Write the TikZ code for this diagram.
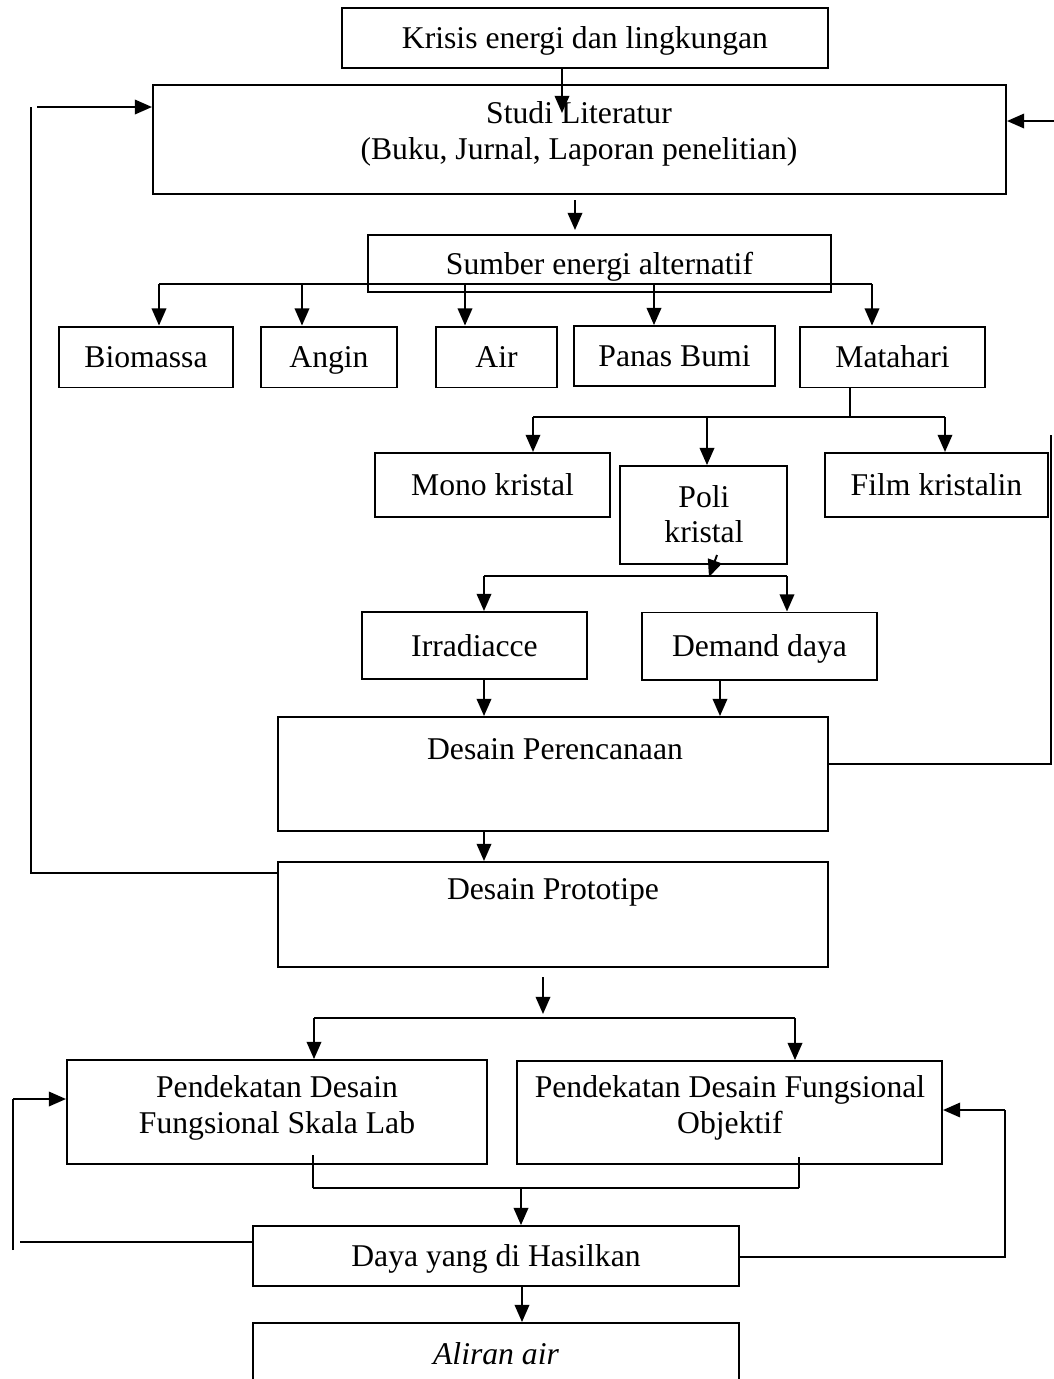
\documentclass[tikz,border=0pt]{standalone}
\usepackage{fontspec}
\setmainfont{Liberation Serif}
\usetikzlibrary{arrows.meta,positioning}
\tikzset{
  box/.style={draw, line width=0.75pt, inner sep=0pt, align=center, text height=9.5pt, text depth=1.5pt},
  txt/.style={inner sep=0pt, align=center},
  arr/.style={line width=0.75pt, -{Triangle[length=6.5pt,width=5.5pt]}},
  ln/.style={line width=0.75pt},
  fb/.style={line width=0.6pt}
}
\begin{document}
\begin{tikzpicture}[x=0.379pt, y=-0.379pt, font=\fontsize{12}{13.5}\selectfont]
\useasboundingbox (0,0) rectangle (1054,1379);
\clip (0,0) rectangle (1054,1379);
% boxes
\node (kr) [box, minimum width=184.2pt, minimum height=22.7pt] at (585,38) {Krisis energi dan lingkungan};
\node (st) [box, minimum width=323.3pt, minimum height=41.3pt] at (579.5,139.5) {};
\node (stt) [txt] at (579,134) {Studi Literatur\\(Buku, Jurnal, Laporan penelitian)};
\node (su) [box, minimum width=175.5pt, minimum height=21.6pt] at (599.5,263.5) {Sumber energi alternatif};
\node (bio) [box, minimum width=65.9pt, minimum height=23.1pt] at (146,357) {Biomassa};
\node (ang) [box, minimum width=51.5pt, minimum height=23.1pt] at (329,357) {Angin};
\node (air) [box, minimum width=45.9pt, minimum height=23.1pt] at (496.5,357) {Air};
\node (pb) [box, minimum width=76.2pt, minimum height=22.7pt] at (674.5,356) {Panas Bumi};
\node (mat) [box, minimum width=70.1pt, minimum height=23.1pt] at (892.5,357) {Matahari};
\node (mono) [box, minimum width=89.1pt, minimum height=24.3pt] at (492.5,485) {Mono kristal};
\node (poli) [box, minimum width=63.3pt, minimum height=37.1pt] at (703.5,515) {};
\node (polit) [txt] at (704,514) {Poli\\kristal};
\node (film) [box, minimum width=84.5pt, minimum height=24.3pt] at (936.5,485) {Film kristalin};
\node (irr) [box, minimum width=85.3pt, minimum height=25.4pt] at (474.5,645.5) {Irradiacce};
\node (dem) [box, minimum width=89.1pt, minimum height=25.4pt] at (759.5,646) {Demand daya};
\node (dp) [box, minimum width=208.5pt, minimum height=43.2pt] at (553,774) {};
\node (dpt) [txt] at (555,749) {Desain Perencanaan};
\node (pr) [box, minimum width=208.5pt, minimum height=39.8pt] at (553,914.5) {};
\node (prt) [txt] at (553,892) {Desain Prototipe};
\node (pl) [box, minimum width=159.2pt, minimum height=39.4pt] at (277,1112) {};
\node (plt) [txt] at (277,1108) {Pendekatan Desain\\Fungsional Skala Lab};
\node (po) [box, minimum width=161.1pt, minimum height=39pt] at (729.5,1112.5) {};
\node (pot) [txt] at (730,1108) {Pendekatan Desain Fungsional\\Objektif};
\node (dy) [box, minimum width=184.2pt, minimum height=22.7pt] at (496,1256) {Daya yang di Hasilkan};
\node (al) [box, minimum width=184.2pt, minimum height=30.3pt] at (496,1363) {};
\node (alt) [txt] at (496,1354) {\itshape Aliran air};
% points
\coordinate (k1) at (562,113);
\coordinate (s1) at (575,200);
\coordinate (s2) at (575,230);
\foreach \n/\x in {bio/159,ang/302,air/465,pb/654,mat/872}
  \coordinate (t\n) at (\x,284);
\coordinate (m0) at (850,417);
\coordinate (m1) at (533,417);
\coordinate (m2) at (707,417);
\coordinate (m3) at (945,417);
\coordinate (p0) at (717,555);
\coordinate (p1) at (709,577);
\coordinate (q1) at (484,576);
\coordinate (q2) at (787,576);
\coordinate (d1) at (720,680);
\coordinate (r1) at (543,977);
\coordinate (r2) at (543,1014);
\coordinate (u1) at (314,1018);
\coordinate (u2) at (795,1018);
\coordinate (v1) at (313,1155);
\coordinate (v2) at (799,1157);
\coordinate (w1) at (313,1188);
\coordinate (w2) at (799,1188);
\coordinate (w0) at (521,1188);
\coordinate (y1) at (522,1286);
% connectors
\draw[arr] (kr.south -| k1) -- (k1);
\draw[arr] (s1) -- (s2);
\draw[ln] (tbio) -- (tmat);
\foreach \n in {bio,ang,air,pb,mat}
  \draw[arr] (t\n) -- (t\n |- \n.north);
\draw[ln] (m0 |- mat.south) -- (m0);
\draw[ln] (m1) -- (m3);
\foreach \p/\n in {m1/mono,m2/poli,m3/film}
  \draw[arr] (\p) -- (\p |- \n.north);
\draw[arr] (p0) -- (p1);
\draw[ln] (q1) -- (q2);
\draw[arr] (q1) -- (q1 |- irr.north);
\draw[arr] (q2) -- (q2 |- dem.north);
\draw[arr] (irr.south -| q1) -- (q1 |- dp.north);
\draw[arr] (d1) -- (d1 |- dp.north);
\draw[arr] (dp.south -| q1) -- (q1 |- pr.north);
\draw[arr] (r1) -- (r2);
\draw[ln] (u1) -- (u2);
\draw[arr] (u1) -- (u1 |- pl.north);
\draw[arr] (u2) -- (u2 |- po.north);
\draw[fb] (v1) -- (w1);
\draw[fb] (v2) -- (w2);
\draw[ln] (w1) -- (w2);
\draw[arr] (w0) -- (w0 |- dy.north);
\draw[arr] (dy.south -| y1) -- (y1 |- al.north);
% feedback
\draw[fb] (pr.west |- 0,873) -- (31,873) -- (31,107);
\draw[arr] (37,107) -- (st.west |- 0,107);
\draw[fb] (dp.east |- 0,764) -- (1051,764) -- (1051,435);
\draw[arr] (1054,121) -- (st.east |- 0,121);
\draw[fb] (dy.west |- 0,1242) -- (20,1242);
\draw[fb] (13,1250) -- (13,1099);
\draw[arr] (13,1099) -- (pl.west |- 0,1099);
\draw[ln] (dy.east |- 0,1257) -- (1005,1257) -- (1005,1110);
\draw[arr] (1005,1110) -- (po.east |- 0,1110);
\end{tikzpicture}
\end{document}
